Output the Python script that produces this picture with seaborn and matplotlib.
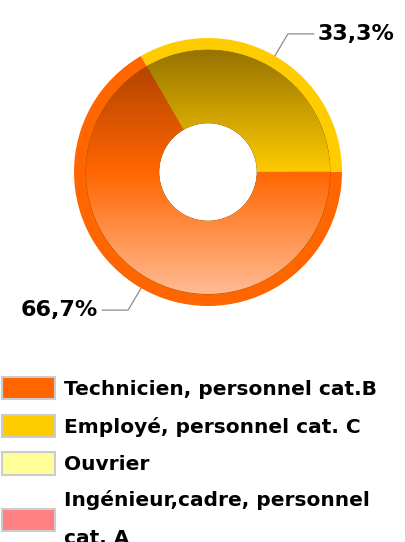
import numpy as np
import seaborn as sns
import matplotlib.pyplot as plt
from matplotlib.patches import Wedge, Patch
from matplotlib.colors import LinearSegmentedColormap

sns.set_theme(style="white")
plt.rcParams['font.family'] = ['DejaVu Sans']

# data
categories = ["Technicien, personnel cat.B", "Employé, personnel cat. C",
              "Ouvrier", "Ingénieur,cadre, personnel\ncat. A"]
values = [66.7, 33.3, 0, 0]
pct_labels = ["66,7%", "33,3%", "", ""]
colors = ["#ff6600", "#ffcc00", "#ffff99", "#ff8080"]
# gradient stops: top (dark) -> base -> bottom (light)
grads = [["#a83f00", "#ff6600", "#ffbb94"],
         ["#967300", "#ffcc00", "#ffe680"],
         ["#cccc66", "#ffff99", "#ffffcc"],
         ["#c05050", "#ff8080", "#ffc0c0"]]

fig = plt.figure(figsize=(4.05, 5.42), dpi=100)
ax = fig.add_axes([0, 0, 1, 1])

cx, cy = 208, 370
R = 134
rim = 12
hole = 49

wedges, _ = ax.pie(values, colors=colors, startangle=120, counterclock=True,
                   center=(cx, cy), radius=R, frame=True,
                   wedgeprops=dict(width=R - hole, edgecolor="none"))
ax.set_xlim(0, 405)
ax.set_ylim(0, 542)
ax.set_aspect("equal")
ax.axis("off")

yy = np.linspace(0, 1, 256).reshape(-1, 1)
for w, g, v in zip(wedges, grads, values):
    if v <= 0:
        continue
    inner = Wedge((cx, cy), R - rim, w.theta1, w.theta2, width=R - rim - hole,
                  facecolor="none", edgecolor="#7a4a00", lw=0.4)
    ax.add_patch(inner)
    cmap = LinearSegmentedColormap.from_list("g", g)
    im = ax.imshow(yy, cmap=cmap, aspect="auto", origin="upper",
                   extent=(cx - R, cx + R, cy - R + rim, cy + R - rim), zorder=2)
    im.set_clip_path(inner)

# leader lines and labels
for w, lab in zip(wedges, pct_labels):
    if not lab:
        continue
    ang = np.deg2rad((w.theta1 + w.theta2) / 2)
    x0, y0 = cx + R * np.cos(ang), cy + R * np.sin(ang)
    side = 1 if np.cos(ang) >= 0 else -1
    up = 1 if np.sin(ang) >= 0 else -1
    x1, y1 = x0 + side * 13, y0 + up * 22
    x2 = x1 + side * 26
    ax.plot([x0, x1, x2], [y0, y1, y1], color="#8c8c8c", lw=0.9, zorder=3)
    ax.text(x2 + side * 4, y1, lab, ha="left" if side > 0 else "right",
            va="center", fontsize=16, fontweight="bold", color="black")

handles = [Patch(facecolor=c, edgecolor="#cccccc", lw=1.5) for c in colors]
leg = ax.legend(handles, categories, loc="upper left",
                bbox_to_anchor=(2 / 405, (542 - 377) / 542),
                frameon=False, fontsize=14.5, handlelength=2.63, handleheight=1.34,
                handletextpad=0.45, labelspacing=0.75, borderpad=0, borderaxespad=0)
for t in leg.get_texts():
    t.set_fontweight("bold")
    t.set_color("black")
    t.set_linespacing(2.3)

fig.savefig("out.png", dpi=100)
